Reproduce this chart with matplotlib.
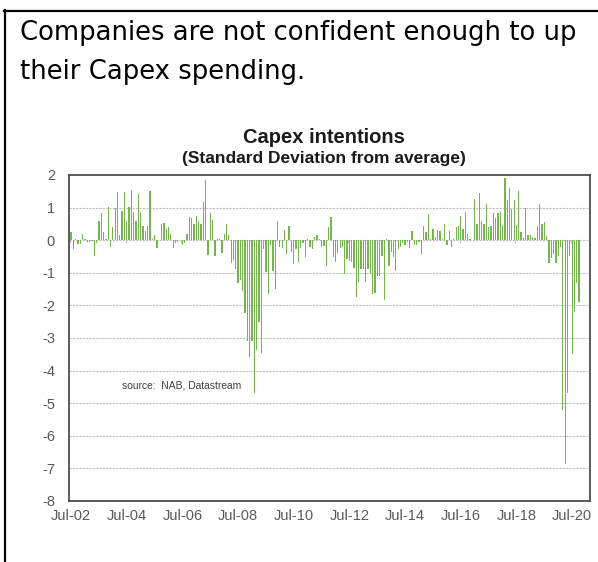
import matplotlib
matplotlib.use("Agg")
import matplotlib.pyplot as plt
import numpy as np
import pandas as pd
from matplotlib.lines import Line2D

# NAB capex intentions, standard deviations from average, monthly from Jul-02
capex_sd = [
    0.24, -0.28, 0.05, -0.12, -0.12, 0.2, 0.03, -0.05, -0.05, -0.03, -0.5, -0.1,      # Jul02-Jun03
    0.58, 0.83, 0.24, 0.03, 1.03, -0.2, 0.42, 0.98, 1.47, 0.15, 0.9, 1.47,           # Jul03-Jun04
    0.58, 1.03, 1.55, 0.87, 0.58, 1.43, 0.87, 0.43, 0.29, 0.43, 1.5, 0.03,           # Jul04-Jun05
    0.15, -0.23, 0.0, 0.51, 0.54, 0.35, 0.39, 0.18, -0.23, -0.1, -0.05, 0.02,        # Jul05-Jun06
    -0.15, -0.1, 0.2, 0.71, 0.67, 0.51, 0.75, 0.58, 0.51, 1.18, 1.84, -0.45,         # Jul06-Jun07
    0.83, 0.63, -0.48, 0.05, 0.03, -0.4, 0.18, 0.51, 0.15, -0.69, -0.6, -0.87,       # Jul07-Jun08
    -1.32, -1.22, -1.57, -2.23, -3.1, -3.58, -3.1, -4.69, -3.37, -2.5, -3.46, -0.28,  # Jul08-Jun09
    -0.97, -1.66, -0.15, -0.93, -1.49, 0.6, -0.2, -0.23, 0.31, -0.43, 0.43, -0.35,   # Jul09-Jun10
    -0.74, -0.26, -0.67, -0.24, -0.1, -0.51, 0.03, -0.2, -0.26, 0.1, 0.15, 0.05,     # Jul10-Jun11
    -0.2, -0.17, -0.79, 0.39, 0.7, -0.53, -0.67, -0.38, -0.23, -0.2, -1.05, -0.58,   # Jul11-Jun12
    -0.64, -0.67, -0.86, -1.74, -1.28, -0.89, -0.87, -1.28, -0.89, -1.05, -1.66, -1.61,  # Jul12-Jun13
    -1.1, -1.1, -0.5, -1.82, 0.03, -0.79, -0.36, -0.51, -0.94, -0.28, -0.2, -0.1,    # Jul13-Jun14
    -0.15, -0.05, -0.23, 0.27, -0.15, -0.15, -0.05, -0.43, 0.43, 0.24, 0.79, 0.03,   # Jul14-Jun15
    0.35, 0.11, 0.31, 0.28, 0.03, 0.51, -0.15, 0.28, -0.2, 0.03, 0.39, 0.43,         # Jul15-Jun16
    0.75, 0.35, 0.87, 0.18, 0.03, 0.02, 1.26, 0.51, 1.44, 0.58, 0.51, 1.1,           # Jul16-Jun17
    0.39, 0.43, 0.83, 0.67, 0.83, 0.87, 0.47, 1.9, 1.23, 1.59, 0.95, 1.23,           # Jul17-Jun18
    0.47, 1.51, 0.24, 0.07, 0.98, 0.15, 0.15, 0.11, 0.07, 0.43, 1.1, 0.51,           # Jul18-Jun19
    0.55, 0.13, -0.71, -0.55, -0.43, -0.71, -0.5, -0.2, -5.2, -6.85, -4.7, -0.5,     # Jul19-Jun20
    -3.5, -2.2, -1.3, -1.9,                                                          # Jul20-Oct20
]
start_month = "2002-07"
tick_every = 24
heading = ["Companies are not confident enough to up", "their Capex spending."]

months = pd.date_range(start_month, periods=len(capex_sd), freq="MS")
x = np.arange(len(capex_sd))

W, H = 598, 562
fig = plt.figure(figsize=(W / 100, H / 100), dpi=100)
fig.patch.set_facecolor("white")

# outer frame: top rule and left rule
fig.add_artist(Line2D([4 / W, 1], [1 - 11 / H, 1 - 11 / H], color="black", lw=1.6,
                      transform=fig.transFigure))
fig.add_artist(Line2D([5 / W, 5 / W], [0, 1 - 10 / H], color="black", lw=1.6,
                      transform=fig.transFigure))

head_kw = dict(fontsize=18.6, family="DejaVu Sans", color="black", va="baseline", ha="left")
fig.text(20 / W, 1 - 40 / H, heading[0], **head_kw)
fig.text(20 / W, 1 - 79 / H, heading[1], **head_kw)

ax = fig.add_axes([69 / W, 1 - 501 / H, (590 - 69) / W, (501 - 175) / H])
ax.bar(x, capex_sd, width=0.55, color="#74b550", linewidth=0, zorder=3)

ax.set_ylim(-8, 2)
ax.set_xlim(-0.9, 223.7)
ax.set_yticks(range(-8, 3))
ax.set_yticklabels([str(v) for v in range(-8, 3)])
for yv in range(-7, 2):
    ax.axhline(yv, color="#c0c0c0", lw=0.8, ls=(0, (2, 1)), zorder=1)

tick_pos = x[::tick_every]
ax.set_xticks(tick_pos)
ax.set_xticklabels([m.strftime("%b-%y") for m in months[::tick_every]])
# small category ticks on the zero line
ax.vlines(tick_pos - 0.5, -0.08, 0, color="#bfbfbf", lw=0.8, zorder=2)

ax.tick_params(axis="both", length=0, labelsize=10.5, labelcolor="#595959",
               labelfontfamily="Liberation Sans")
ax.tick_params(axis="y", pad=10)
ax.tick_params(axis="x", pad=6)
for sp in ax.spines.values():
    sp.set_color("#404040")
    sp.set_linewidth(1.2)

fig.text(324 / W, 1 - 143 / H, "Capex intentions", ha="center", va="baseline",
         fontsize=14.5, fontweight="bold", family="Liberation Sans", color="#1a1a1a")
fig.text(324 / W, 1 - 163 / H, "(Standard Deviation from average)", ha="center",
         va="baseline", fontsize=12.5, fontweight="bold", family="Liberation Sans",
         color="#1a1a1a")

fig.text(122 / W, 1 - 385 / H, "source:  NAB, Datastream", fontsize=7.4,
         family="Liberation Sans", color="#404040", va="center", ha="left")

fig.savefig("out.png", dpi=100)
